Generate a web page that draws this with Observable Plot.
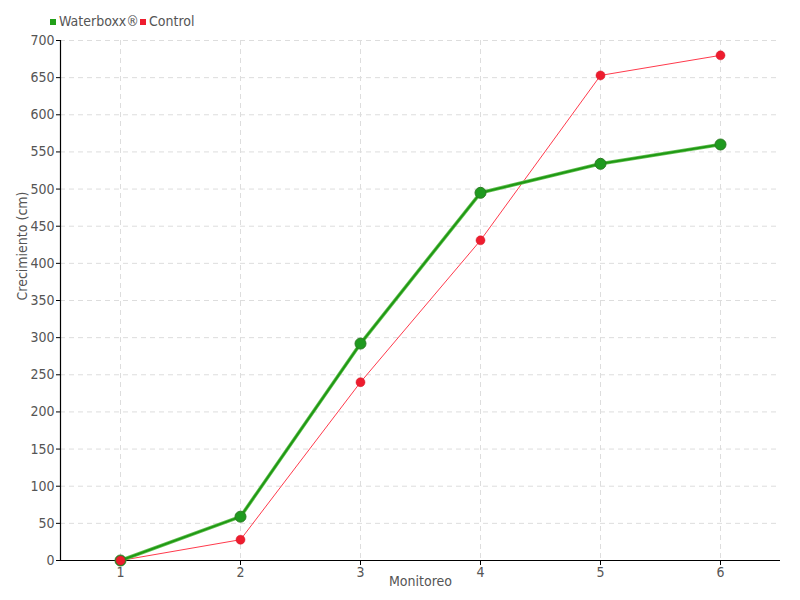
<!DOCTYPE html>
<html>
<head>
<meta charset="utf-8">
<script src="https://cdn.jsdelivr.net/npm/d3@7"></script>
<script src="https://cdn.jsdelivr.net/npm/@observablehq/plot@0.6"></script>
<style>
  body { margin: 0; background: #fff; font-family: "DejaVu Sans Condensed", "Liberation Sans Narrow", sans-serif; }
  #legend { height: 30px; position: relative; font-size: 14px; color: #555; }
  #legend span.item { position: absolute; top: 13px; white-space: nowrap; }
  #legend span.sw { display: inline-block; width: 6px; height: 6px; margin-right: 3px; vertical-align: 1px; }
</style>
</head>
<body>
<div id="legend"></div>
<div id="chart"></div>
<script>
const monitoreo = [1, 2, 3, 4, 5, 6];
const waterboxx = [0, 59, 292, 495, 534, 560];
const control = [0, 28, 240, 431, 653, 680];
const seriesNames = ["Waterboxx®", "Control"];
const seriesColors = ["#22a01a", "#ee1c2e"];
const yTicks = d3.range(0, 701, 50);

const dataW = monitoreo.map((m, i) => ({m, v: waterboxx[i]}));
const dataC = monitoreo.map((m, i) => ({m, v: control[i]}));

// legend
const legend = document.getElementById("legend");
const lx = [50, 140];
seriesNames.forEach((n, i) => {
  const s = document.createElement("span");
  s.className = "item";
  s.style.left = lx[i] + "px";
  s.innerHTML = `<span class="sw" style="background:${seriesColors[i]}"></span>${n}`;
  legend.appendChild(s);
});

const chart = Plot.plot({
  width: 800,
  height: 570,
  marginTop: 10,
  marginBottom: 40,
  marginLeft: 60,
  marginRight: 20,
  style: {fontFamily: '"DejaVu Sans Condensed", "Liberation Sans Narrow", sans-serif', fontSize: "14px", color: "#555", background: "#fff"},
  x: {domain: [0.5, 6.5], ticks: monitoreo, label: null},
  y: {domain: [0, 700], ticks: yTicks, label: null},
  marks: [
    Plot.gridY(yTicks, {stroke: "#ddd", strokeOpacity: 1, strokeDasharray: "5,4"}),
    Plot.gridX(monitoreo, {stroke: "#ddd", strokeOpacity: 1, strokeDasharray: "5,4"}),
    Plot.axisX({ticks: monitoreo, tickFormat: "d", tickSize: 5, tickPadding: 2, stroke: "#000", fill: "#555", fontSize: 14, label: null}),
    Plot.axisY({ticks: yTicks, tickSize: 4, tickPadding: 2, stroke: "#000", fill: "#555", fontSize: 14, label: null}),
    Plot.ruleY([0], {stroke: "#000", strokeWidth: 1.2}),
    Plot.ruleX([0.5], {stroke: "#000", strokeWidth: 1.2}),
    Plot.line(dataC, {x: "m", y: "v", stroke: "#ff3a4c", strokeWidth: 1}),
    Plot.line(dataW, {x: "m", y: "v", stroke: "#66c055", strokeWidth: 3.5}),
    Plot.line(dataW, {x: "m", y: "v", stroke: "#1f9914", strokeWidth: 2}),
    Plot.dot(dataW, {x: "m", y: "v", r: 5.5, fill: "#1f9a1f", stroke: "#2a7a22", strokeWidth: 1}),
    Plot.dot(dataC, {x: "m", y: "v", r: 4.5, fill: "#ee1c2e", stroke: "#d01828", strokeWidth: 0.5}),
    Plot.text(["Monitoreo"], {frameAnchor: "bottom", dy: 25, fill: "#555", fontSize: 14}),
    Plot.text(["Crecimiento (cm)"], {frameAnchor: "left", dx: -38, rotate: -90, fill: "#555", fontSize: 14})
  ]
});
document.getElementById("chart").appendChild(chart);
</script>
</body>
</html>
